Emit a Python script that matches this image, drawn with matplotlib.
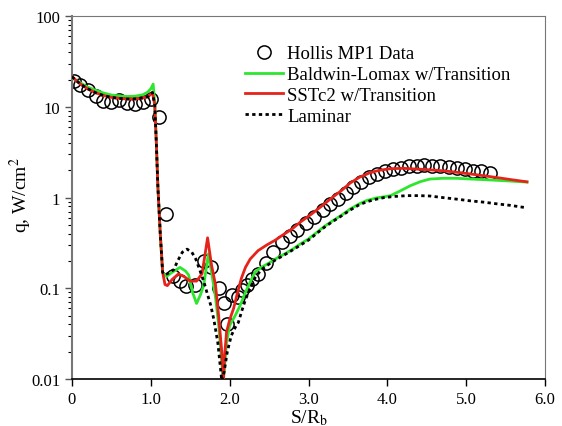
import matplotlib
matplotlib.use("Agg")
import matplotlib.pyplot as plt
from matplotlib.ticker import FixedLocator, LogLocator, NullFormatter

plt.rcParams["font.family"] = ["Liberation Serif", "DejaVu Serif"]
plt.rcParams["mathtext.fontset"] = "stix"

# Dados experimentais (Hollis MP1)
hollis_s = [0.02, 0.10, 0.20, 0.30, 0.40, 0.50, 0.60, 0.70, 0.80, 0.90, 1.00,
            1.11, 1.19, 1.28, 1.37, 1.45, 1.56, 1.67, 1.76, 1.86, 1.93, 1.97,
            2.03, 2.10, 2.16, 2.22, 2.28, 2.36, 2.46, 2.55, 2.66, 2.76, 2.86,
            2.97, 3.07, 3.18, 3.27, 3.37, 3.47, 3.57, 3.67, 3.77, 3.87, 3.97,
            4.07, 4.17, 4.27, 4.37, 4.47, 4.57, 4.67, 4.78, 4.88, 4.98, 5.09,
            5.19, 5.30]
hollis_q = [19.5, 17.5, 15.4, 13.0, 11.7, 11.2, 12.0, 11.0, 10.7, 11.2, 12.2,
            7.8, 0.66, 0.135, 0.12, 0.106, 0.11, 0.20, 0.17, 0.10, 0.068, 0.040,
            0.085, 0.08, 0.095, 0.11, 0.125, 0.144, 0.19, 0.25, 0.32, 0.38, 0.44,
            0.52, 0.61, 0.73, 0.84, 0.97, 1.12, 1.30, 1.50, 1.68, 1.83, 1.96,
            2.06, 2.14, 2.20, 2.24, 2.26, 2.24, 2.20, 2.15, 2.10, 2.04, 1.98,
            1.94, 1.88]

# Baldwin-Lomax w/Transition
bl_s = [0.0, 0.1, 0.2, 0.3, 0.4, 0.5, 0.6, 0.7, 0.8, 0.9, 0.96, 1.0, 1.03,
        1.05, 1.07, 1.09, 1.12, 1.15, 1.20, 1.27, 1.37, 1.44, 1.48, 1.53, 1.58,
        1.63, 1.67, 1.73, 1.77, 1.82, 1.86, 1.90, 1.92, 1.96, 2.0, 2.07, 2.13,
        2.2, 2.26, 2.32, 2.4, 2.5, 2.58, 2.7, 2.8, 2.9, 3.0, 3.1, 3.2, 3.3,
        3.42, 3.53, 3.64, 3.74, 3.86, 3.96, 4.04, 4.16, 4.29, 4.42, 4.54, 4.7,
        4.88, 5.06, 5.26, 5.5, 5.77]
bl_q = [21.0, 18.5, 16.5, 15.2, 14.2, 13.5, 13.2, 13.0, 13.1, 13.6, 14.5, 15.8, 17.8,
        11.0, 4.2, 1.3, 0.40, 0.15, 0.135, 0.15, 0.17, 0.155, 0.14, 0.09, 0.068,
        0.085, 0.107, 0.24, 0.15, 0.08, 0.04, 0.015, 0.0095, 0.025, 0.039, 0.05, 0.064,
        0.09, 0.117, 0.15, 0.17, 0.19, 0.21, 0.24, 0.27, 0.31, 0.35, 0.41, 0.48, 0.55,
        0.64, 0.75, 0.85, 0.93, 0.99, 1.02, 1.05, 1.18, 1.35, 1.50, 1.60, 1.63,
        1.63, 1.60, 1.57, 1.53, 1.48]

# SSTc2 w/Transition
sst_s = [0.0, 0.1, 0.2, 0.3, 0.4, 0.5, 0.6, 0.7, 0.8, 0.9, 0.97, 1.02, 1.05,
         1.07, 1.09, 1.12, 1.15, 1.18, 1.21, 1.27, 1.35, 1.42, 1.50, 1.58, 1.65,
         1.72, 1.77, 1.82, 1.86, 1.90, 1.92, 1.94, 1.96, 2.00, 2.05, 2.10, 2.15,
         2.20, 2.26, 2.36, 2.47, 2.58, 2.68, 2.79, 2.90, 3.04, 3.17, 3.30, 3.42,
         3.53, 3.65, 3.78, 3.90, 4.04, 4.20, 4.37, 4.54, 4.71, 4.88, 5.05, 5.22,
         5.39, 5.58, 5.77]
sst_q = [21.5, 18.0, 15.8, 14.3, 13.3, 12.7, 12.4, 12.2, 12.2, 12.5, 13.0, 14.4, 10.5,
         4.0, 1.3, 0.40, 0.15, 0.11, 0.107, 0.125, 0.144, 0.135, 0.12, 0.12, 0.145,
         0.36, 0.18, 0.11, 0.05, 0.02, 0.0095, 0.02, 0.033, 0.045, 0.06, 0.09, 0.13,
         0.17, 0.21, 0.26, 0.30, 0.34, 0.39, 0.45, 0.54, 0.66, 0.81, 1.0, 1.2,
         1.45, 1.68, 1.88, 2.0, 2.08, 2.10, 2.06, 2.02, 1.97, 1.90, 1.82, 1.74,
         1.66, 1.57, 1.49]

# Laminar
lam_s = [0.0, 0.1, 0.2, 0.3, 0.4, 0.5, 0.6, 0.7, 0.8, 0.9, 0.97, 1.02, 1.05,
         1.07, 1.09, 1.12, 1.15, 1.18, 1.24, 1.29, 1.34, 1.40, 1.46, 1.52, 1.57,
         1.62, 1.67, 1.72, 1.76, 1.80, 1.85, 1.90, 1.93, 1.97, 2.02, 2.07, 2.11,
         2.15, 2.20, 2.26, 2.32, 2.40, 2.5, 2.58, 2.7, 2.8, 2.9, 3.0, 3.1, 3.2,
         3.3, 3.42, 3.53, 3.64, 3.74, 3.86, 3.96, 4.1, 4.25, 4.4, 4.54, 4.7,
         4.88, 5.05, 5.22, 5.4, 5.56, 5.77]
lam_q = [21.5, 18.0, 15.8, 14.3, 13.3, 12.7, 12.4, 12.2, 12.2, 12.5, 13.0, 14.4, 10.5,
         4.0, 1.3, 0.40, 0.15, 0.14, 0.15, 0.16, 0.20, 0.25, 0.27, 0.25, 0.21,
         0.16, 0.12, 0.085, 0.065, 0.045, 0.025, 0.0095, 0.012, 0.02, 0.03, 0.037, 0.042,
         0.055, 0.075, 0.10, 0.13, 0.16, 0.185, 0.205, 0.235, 0.265, 0.30, 0.34, 0.40, 0.47,
         0.54, 0.63, 0.73, 0.83, 0.90, 0.96, 1.0, 1.03, 1.05, 1.05, 1.04, 1.0,
         0.96, 0.92, 0.89, 0.85, 0.82, 0.77]

x_ticks = [0, 1, 2, 3, 4, 5, 6]
x_tick_labels = ["0", "1.0", "2.0", "3.0", "4.0", "5.0", "6.0"]
y_ticks = [0.01, 0.1, 1, 10, 100]
y_tick_labels = ["0.01", "0.1", "1", "10", "100"]

fig = plt.figure(figsize=(5.62, 4.27), dpi=100)
ax = fig.add_axes([0.128, 0.110, 0.842, 0.850])

ax.plot(hollis_s, hollis_q, "o", mfc="none", mec="black", ms=9.5, mew=1.1,
        label="Hollis MP1 Data", zorder=2)
ax.plot(bl_s, bl_q, color="#2ee62e", lw=2.0, label="Baldwin-Lomax w/Transition", zorder=3)
ax.plot(sst_s, sst_q, color="#e5231b", lw=2.0, label="SSTc2 w/Transition", zorder=4)
ax.plot(lam_s, lam_q, color="black", lw=2.0, linestyle=(0, (1.2, 1.2)),
        label="Laminar", zorder=5)

ax.set_yscale("log")
ax.set_xlim(0, 6)
ax.set_ylim(0.01, 100)

ax.xaxis.set_major_locator(FixedLocator(x_ticks))
ax.set_xticklabels(x_tick_labels)
ax.yaxis.set_major_locator(FixedLocator(y_ticks))
ax.set_yticklabels(y_tick_labels)
ax.yaxis.set_minor_locator(LogLocator(base=10, subs=range(2, 10)))
ax.yaxis.set_minor_formatter(NullFormatter())

ax.tick_params(axis="both", which="major", labelsize=12, length=5, width=1)
ax.tick_params(axis="y", which="minor", length=3, width=0.8)
ax.tick_params(axis="y", colors="#555555", labelcolor="black")

for side in ["left", "top", "right"]:
    ax.spines[side].set_color("#777777")
ax.spines["left"].set_linewidth(1.5)
ax.spines["bottom"].set_linewidth(1.2)

ax.set_xlabel("S/R$_\\mathrm{b}$", fontsize=14, labelpad=0)
ax.set_ylabel("q, W/cm$^2$", fontsize=14)
ax.yaxis.set_label_coords(-0.08, 0.51)

ax.legend(loc="upper left", bbox_to_anchor=(0.366, 0.92), frameon=False,
          fontsize=13.5, borderpad=0, labelspacing=0.2, handlelength=2.0,
          handletextpad=0.25, borderaxespad=0)

fig.savefig("out.png", dpi=100)
